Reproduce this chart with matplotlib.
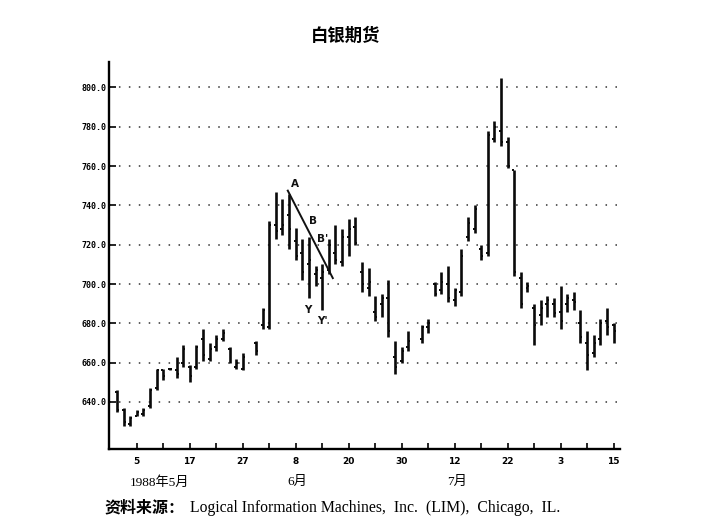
import matplotlib
matplotlib.use('Agg')
import matplotlib.pyplot as plt
import numpy as np
import pandas as pd

# weekday calendar, holidays left empty
days = pd.bdate_range('1988-05-02', '1988-08-15')
holidays = pd.to_datetime(['1988-05-30', '1988-07-04'])

high = [646, 637, 633, 636, 637, 647, 657, 657, 657.5, 663, 669, 659, 669, 677, 670, 674, 677, 668, 662, 665,
        671, 688, 732, 747, 743, 746, 728.5, 723, 724, 709, 710, 723, 730, 728, 733, 734, 711, 708, 694, 695,
        702, 671, 668, 676, 679, 682, 701, 706, 709, 698, 718, 734, 740, 720, 778, 783, 805, 775, 758, 706,
        701, 690, 692, 694, 693, 699, 695, 696, 687, 676, 674, 682, 688, 680]
low = [635, 628, 628, 633, 633, 637, 646, 651, 656.5, 652, 658, 650, 657, 661, 661, 666, 671, 660, 657, 656,
       664, 677, 677, 723, 725, 718, 712, 702, 693, 699, 687, 705, 710, 709, 714, 720, 696, 694, 681, 683,
       673, 654, 660, 666, 670, 675, 694, 695, 691, 689, 694, 722, 726, 712, 714, 772, 770, 759, 704, 688,
       696, 669, 679, 683, 683, 677, 686, 687, 670, 656, 663, 669, 674, 670]
opn = [645, 636, 629, 633, 634, 638, 647, 656, 657, 656, 660, 658, 658, 672, 662, 668, 672, 667, 658, 657,
       670, 679, 678, 730, 728, 735, 722, 716, 710, 705, 703, 707, 716, 711, 724, 729, 706, 698, 686, 690,
       693, 663, 661, 668, 672, 678, 700, 697, 700, 692, 696, 724, 728, 718, 716, 774, 778, 772, 758, 703,
       698, 688, 684, 690, 690, 686, 690, 692, 680, 670, 665, 672, 681, 679]
close = [636, 630, 632, 635, 636, 646, 656, 653, 657, 654, 667, 653, 668, 664, 667, 672, 675, 661, 660, 663,
         666, 687, 730, 727, 730, 728, 714, 706, 712, 707, 706, 720, 712, 724, 728, 721, 700, 701, 683, 693,
         676, 658, 666, 671, 678, 680, 695, 701, 693, 697, 714, 731, 738, 714, 776, 780, 772, 760, 706, 690,
         699, 679, 688, 692, 685, 681, 693, 691, 673, 664, 670, 680, 678, 676]

y_ticks = [640, 660, 680, 700, 720, 740, 760, 780, 800]
month_text = ['1988年5月', '6月', '7月']
month_pos = [6.5, 27.3, 51.3]

# hand drawn trend line and letters
trend_x = [25.8, 32.6]
trend_y = [747.5, 703]
note_text = ['A', 'B', "B'", 'Y', "Y'"]
note_x = [26.9, 29.6, 31.0, 28.9, 31.1]
note_y = [751, 732, 723, 687, 681]

source = 'Logical Information Machines,  Inc.  (LIM),  Chicago,  IL.'

xall = np.arange(len(days))
x = xall[~days.isin(holidays)]

fig = plt.figure(figsize=(7.17, 5.29), dpi=100)
ax = fig.add_axes([0.152, 0.151, 0.713, 0.732])

for v in y_ticks:
	ax.axhline(v, color='#333333', lw=1.1, ls=(0, (1, 5.5)), zorder=1)

ax.vlines(x, low, high, color='#0a0a0a', lw=1.9, zorder=3)
ax.hlines(opn, x - 0.3, x, color='#0a0a0a', lw=1.4, zorder=3)
ax.hlines(close, x, x + 0.3, color='#0a0a0a', lw=1.4, zorder=3)

ax.plot(trend_x, trend_y, color='#111111', lw=1.4, zorder=4)
for t, tx, ty in zip(note_text, note_x, note_y):
	ax.text(tx, ty, t, fontsize=7.5, fontweight='bold', ha='center', va='center', color='#111111')

ax.set_xlim(-1.2, 76)
ax.set_ylim(616, 813)

ax.spines['top'].set_visible(False)
ax.spines['right'].set_visible(False)
ax.spines['left'].set_linewidth(1.7)
ax.spines['bottom'].set_linewidth(1.7)

ax.set_yticks(y_ticks)
ax.set_yticklabels(['%.1f' % v for v in y_ticks], fontsize=6, fontweight='bold', family='DejaVu Sans Mono')
ax.set_xticks(xall[3::8])
ax.set_xticklabels([str(d.day) for d in days[3::8]], fontsize=6.5, fontweight='bold')
ax.set_xticks(xall[7::8], minor=True)
ax.tick_params(axis='y', direction='in', length=5, width=1.2, pad=2)
ax.tick_params(axis='x', which='both', direction='in', length=4, width=1.2, pad=6)

for t, p in zip(month_text, month_pos):
	ax.text(p, -0.07, t, transform=ax.get_xaxis_transform(), ha='center', va='top',
		fontsize=9.5, family=['Liberation Serif', 'Noto Sans CJK SC'])

fig.text(0.482, 0.932, '白银期货', ha='center', va='center', fontsize=12.5,
	fontweight='bold', family=['Noto Sans CJK SC'])
fig.text(0.146, 0.040, '资料来源：', ha='left', va='center', fontsize=11.5,
	fontweight='bold', family=['Noto Sans CJK SC'])
fig.text(0.265, 0.040, source, ha='left', va='center', fontsize=11.3,
	family=['Liberation Serif', 'Noto Sans CJK SC'])

plt.savefig('out.png', dpi=100)
